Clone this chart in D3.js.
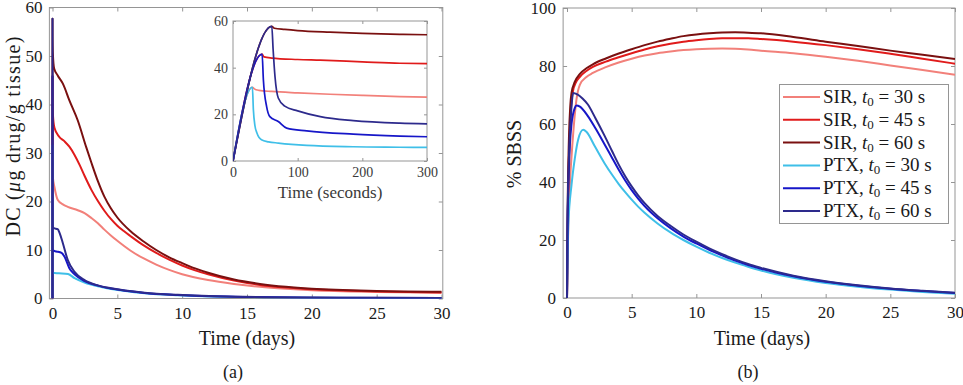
<!DOCTYPE html>
<html><head><meta charset="utf-8">
<script src="https://cdn.jsdelivr.net/npm/d3@7"></script>
<style>
body{margin:0;background:#fff}
text{font-family:"Liberation Serif","Times New Roman",serif}
</style>
</head><body>
<svg id="chart" width="963" height="385"></svg>
<script>
// ---------- data ----------
const seriesLabels = ["SIR", "SIR", "SIR", "PTX", "PTX", "PTX"];
const seriesT0 = [30, 45, 60, 30, 45, 60];
const seriesColors = ["#f2807a", "#e01b1b", "#7a1010", "#3fbfe8", "#1616c8", "#2d2a8c"];

// Panel (a): DC in days
const sir30Days = [[0,0],[0.000347,31.6],[0.00347,27.3],[0.03,25],[0.15,23],[0.41,20.3],[0.8,19.4],[1.18,18.9],[1.95,18.2],[2.47,17.6],[3.0,16.6],[3.5,15.5],[4.0,14.2],[4.5,13.0],[5,11.9],[6,9.9],[7,8.3],[8,7.0],[9,5.9],[10,5.0],[12,3.8],[14,3.0],[16,2.4],[18,2.0],[20,1.7],[25,1.35],[30,1.2]];
const sir45Days = [[0,0],[0.00052,45.8],[0.00347,41.5],[0.03,38],[0.15,35.2],[0.5,33.4],[0.93,32.4],[1.3,31.3],[1.7,29.6],[2.1,27.5],[2.47,25.3],[3.0,22.4],[3.5,20.1],[4.0,18.1],[4.5,16.4],[5,15.0],[5.5,13.9],[6,12.9],[7,11.0],[8,9.4],[9,8.0],[10,6.8],[11,5.8],[12,5.0],[14,3.7],[16,2.8],[18,2.25],[20,1.9],[25,1.45],[30,1.25]];
const sir60Days = [[0,0],[0.000694,57.7],[0.00347,54],[0.03,50.5],[0.12,47.5],[0.4,46],[0.8,44.3],[1.31,40.8],[1.95,36.7],[2.6,31.2],[3.0,28],[3.5,24.2],[4.0,21],[4.5,18.6],[5,16.7],[6,13.9],[7,11.8],[8,10.0],[9,8.5],[10,7.3],[11,6.2],[12,5.3],[14,3.9],[16,3.0],[18,2.4],[20,2.0],[25,1.55],[30,1.4]];
const ptx30Days = [[0,0],[0.000347,31.6],[0.00347,5.8],[0.02,5.3],[0.5,5.2],[1.2,5.05],[1.7,4.2],[2.47,3.3],[3.5,2.5],[4.52,1.95],[7.1,1.1],[9.66,0.68],[14.7,0.3],[20,0.17],[30,0.07]];
const ptx45Days = [[0,0],[0.00052,45.8],[0.00347,10.5],[0.02,9.9],[0.3,9.7],[0.7,9.4],[0.93,8.6],[1.31,6.2],[1.7,5.0],[2.47,3.6],[3.5,2.65],[4.52,2.05],[7.1,1.15],[9.66,0.72],[14.7,0.33],[20,0.18],[30,0.08]];
const ptx60Days = [[0,0],[0.000694,57.7],[0.00347,16],[0.02,14.8],[0.1,14.5],[0.4,14.3],[0.55,13.5],[0.8,11.4],[1.18,7.9],[1.7,5.5],[2.47,3.8],[3.5,2.7],[4.52,2.1],[7.1,1.2],[9.66,0.75],[14.7,0.35],[20,0.2],[25,0.15],[30,0.1]];

// Inset: DC in seconds
const sir30Sec = [[0,0],[30,31.6],[33,30.9],[40,30.3],[60,29.8],[100,29.2],[150,28.6],[200,28.1],[258,27.6],[300,27.4]];
const sir45Sec = [[0,0],[45,45.8],[48,44.6],[60,44.1],[100,43.5],[135,43.2],[200,42.5],[258,41.9],[300,41.7]];
const sir60Sec = [[0,0],[60,57.7],[64,56.9],[80,56.4],[100,55.9],[150,55.2],[200,54.7],[258,54.3],[300,54.1]];
const ptx30Sec = [[0,0],[30,31.6],[31.5,22],[34,15],[37,12],[44,9.1],[55,8.2],[70,7.7],[114,6.7],[186,6.1],[258,5.9],[300,5.8]];
const ptx45Sec = [[0,0],[45,45.8],[47,34.7],[52,23.3],[57,19],[70,16.9],[83,14.1],[114,12.9],[186,11.5],[258,10.7],[300,10.4]];
const ptx60Sec = [[0,0],[60,57.7],[62,48],[65,36],[70,27],[80,23.5],[100,21.5],[135,19],[186,17.3],[258,16.2],[300,15.9]];

// Panel (b): % SBSS in days
const sir30Sbss = [[0,0],[0.1,25],[0.2,37],[0.45,55],[0.73,68.4],[1.0,73.6],[1.5,76.2],[2,77.6],[3,79.6],[4,81.2],[5,82.5],[6,83.6],[7,84.4],[8,85.0],[9,85.5],[10,85.8],[11,85.95],[12,86.0],[13,85.95],[14,85.7],[15,85.3],[17.5,84.4],[20,83.2],[22.5,81.8],[25,80.2],[27.5,78.6],[30,77]];
const sir45Sbss = [[0,0],[0.07,30],[0.2,55],[0.3,65],[0.43,70.7],[0.73,74.7],[1.0,76.3],[1.5,78.3],[2,79.7],[3,81.5],[4,83.0],[5,84.4],[6,85.7],[7,86.8],[8,87.7],[9,88.4],[10,88.9],[11,89.3],[12,89.55],[13,89.6],[14,89.55],[15,89.3],[17.5,88.4],[20,87.2],[22.5,85.8],[25,84.2],[27.5,82.5],[30,80.8]];
const sir60Sbss = [[0,0],[0.05,30],[0.15,55],[0.25,66],[0.35,70.7],[0.6,74.5],[1.0,77.3],[1.5,79.2],[2,80.6],[3,82.6],[4,84.3],[5,85.8],[6,87.2],[7,88.4],[8,89.4],[9,90.3],[10,90.9],[11,91.3],[12,91.55],[13,91.6],[14,91.5],[15,91.3],[17.5,90.0],[20,88.4],[22.5,86.9],[25,85.3],[27.5,83.9],[30,82.4]];
const ptx30Sbss = [[0,0],[0.1,25],[0.35,39],[0.6,48],[0.86,54.6],[1.25,58],[1.5,57.3],[2.15,52.3],[2.9,46.5],[3.5,42.4],[4,39.3],[4.5,36.5],[5,33.9],[5.5,31.5],[6,29.4],[7,25.7],[8,22.6],[9,20.0],[10,17.7],[11,15.6],[12,13.8],[13,12.2],[14,10.8],[15,9.5],[17.5,7.0],[20,5.2],[22.5,3.9],[25,2.9],[27.5,2.1],[30,1.5]];
const ptx45Sbss = [[0,0],[0.05,25],[0.15,45],[0.35,60],[0.6,65.5],[0.73,66.4],[1.0,66],[1.6,62.8],[2.2,58.5],[2.9,53],[3.5,48.2],[4,44.2],[4.5,40.5],[5,37.2],[5.5,34.3],[6,31.7],[7,27.5],[8,24.1],[9,21.2],[10,18.8],[11,16.6],[12,14.7],[13,12.9],[14,11.4],[15,10.1],[17.5,7.5],[20,5.6],[22.5,4.25],[25,3.2],[27.5,2.4],[30,1.7]];
const ptx60Sbss = [[0,0],[0.02,20],[0.08,37],[0.2,55],[0.35,66],[0.47,70.7],[0.8,70.2],[1.2,68.8],[1.6,66.8],[2.2,62],[2.9,56],[3.5,50.5],[4,46],[4.5,42],[5,38.5],[5.5,35.4],[6,32.7],[7,28.3],[8,24.9],[9,21.9],[10,19.4],[11,17.1],[12,15.1],[13,13.3],[14,11.7],[15,10.4],[17.5,7.7],[20,5.8],[22.5,4.4],[25,3.3],[27.5,2.5],[30,1.8]];

const dayTicks = [0, 5, 10, 15, 20, 25, 30];
const dcTicks = [0, 10, 20, 30, 40, 50, 60];
const sbssTicks = [0, 20, 40, 60, 80, 100];
const secTicks = [0, 100, 200, 300];
const insetTicks = [0, 20, 40, 60];

const dcSeries = [sir30Days, sir45Days, sir60Days, ptx30Days, ptx45Days, ptx60Days];
const secSeries = [sir30Sec, sir45Sec, sir60Sec, ptx30Sec, ptx45Sec, ptx60Sec];
const sbssSeries = [sir30Sbss, sir45Sbss, sir60Sbss, ptx30Sbss, ptx45Sbss, ptx60Sbss];

// ---------- drawing ----------
const svg = d3.select("#chart");
const boxColor = "#959595";
const txtColor = "#1a1a1a";

function panel(opts) {
  const g = svg.append("g");
  const {x, y, xTicks, yTicks, box, tickFont, tickLen, labelColor} = opts;
  g.append("rect").attr("x", box[0]).attr("y", box[1]).attr("width", box[2]-box[0]).attr("height", box[3]-box[1])
    .attr("fill", "#fff");
  const clipId = "clip" + Math.random().toString(36).slice(2);
  g.append("clipPath").attr("id", clipId).append("rect")
    .attr("x", box[0]).attr("y", box[1]-2).attr("width", box[2]-box[0]).attr("height", box[3]-box[1]+2);
  const ax = [
    d3.axisBottom(x).tickValues(xTicks).tickSizeInner(-tickLen).tickSizeOuter(0).tickPadding(opts.xPad),
    d3.axisTop(x).tickValues(xTicks).tickSizeInner(-tickLen).tickSizeOuter(0).tickFormat(""),
    d3.axisLeft(y).tickValues(yTicks).tickSizeInner(-tickLen).tickSizeOuter(0).tickPadding(opts.yPad),
    d3.axisRight(y).tickValues(yTicks).tickSizeInner(-tickLen).tickSizeOuter(0).tickFormat("")
  ];
  const pos = [`translate(0,${box[3]})`, `translate(0,${box[1]})`, `translate(${box[0]},0)`, `translate(${box[2]},0)`];
  ax.forEach((a, i) => {
    const ag = g.append("g").attr("transform", pos[i]).call(a);
    ag.select(".domain").remove();
    ag.selectAll(".tick line").attr("stroke", boxColor).attr("stroke-width", 1);
    ag.selectAll(".tick text").attr("fill", labelColor).style("font-size", tickFont + "px")
      .style("font-family", '"Liberation Serif",serif');
  });
  g.append("rect").attr("x", box[0]).attr("y", box[1]).attr("width", box[2]-box[0]).attr("height", box[3]-box[1])
    .attr("fill", "none").attr("stroke", boxColor).attr("stroke-width", 1);
  const lines = g.append("g").attr("clip-path", `url(#${clipId})`);
  const line = d3.line().x(d => x(d[0])).y(d => y(d[1])).curve(d3.curveMonotoneX);
  opts.series.forEach((s, i) => {
    lines.append("path").attr("d", line(s)).attr("fill", "none")
      .attr("stroke", seriesColors[i]).attr("stroke-width", opts.lw).attr("stroke-linejoin", "round");
  });
  return g;
}

// Panel (a)
const xA = d3.scaleLinear().domain([0, 30]).range([52.5, 441.5]);
const yA = d3.scaleLinear().domain([0, 60]).range([298.5, 7.5]);
panel({x: xA, y: yA, xTicks: dayTicks, yTicks: dcTicks, box: [xA(-0.24), 7.5, xA(30.1), 298.5],
  tickFont: 17, tickLen: 4, xPad: 8, yPad: 7, labelColor: txtColor, series: dcSeries, lw: 2});

// Inset
const xI = d3.scaleLinear().domain([0, 300]).range([233, 427]);
const yI = d3.scaleLinear().domain([0, 60]).range([161, 21]);
panel({x: xI, y: yI, xTicks: secTicks, yTicks: insetTicks, box: [233, 21, 427, 161],
  tickFont: 14, tickLen: 3, xPad: 6, yPad: 5, labelColor: "#3a3a3a", series: secSeries, lw: 1.7});

// Panel (b)
const xB = d3.scaleLinear().domain([0, 30]).range([567, 955]);
const yB = d3.scaleLinear().domain([0, 100]).range([298, 8]);
panel({x: xB, y: yB, xTicks: dayTicks, yTicks: sbssTicks, box: [xB(-0.3), 8, 955, 298],
  tickFont: 17, tickLen: 4, xPad: 8, yPad: 7, labelColor: txtColor, series: sbssSeries, lw: 2});

// Axis labels
svg.append("text").attr("x", 247).attr("y", 345).attr("text-anchor", "middle")
  .attr("fill", txtColor).style("font-size", "20px").text("Time (days)");
svg.append("text").attr("x", 762).attr("y", 345).attr("text-anchor", "middle")
  .attr("fill", txtColor).style("font-size", "20px").text("Time (days)");
svg.append("text").attr("x", 330).attr("y", 198).attr("text-anchor", "middle")
  .attr("fill", "#3a3a3a").style("font-size", "17px").text("Time (seconds)");
const yl = svg.append("text").attr("transform", "translate(20,136) rotate(-90)").attr("text-anchor", "middle")
  .attr("fill", txtColor).style("font-size", "20px").style("letter-spacing", "1.3px");
yl.append("tspan").text("DC (");
yl.append("tspan").style("font-style", "italic").text("μ");
yl.append("tspan").text("g drug/g tissue)");
svg.append("text").attr("transform", "translate(521,154) rotate(-90)").attr("text-anchor", "middle")
  .attr("fill", txtColor).style("font-size", "20px").text("% SBSS");

svg.append("text").attr("x", 233).attr("y", 378).attr("text-anchor", "middle")
  .attr("fill", txtColor).style("font-size", "18px").text("(a)");
svg.append("text").attr("x", 748).attr("y", 378).attr("text-anchor", "middle")
  .attr("fill", txtColor).style("font-size", "18px").text("(b)");

// Legend
const lg = svg.append("g");
lg.append("rect").attr("x", 779.5).attr("y", 84.5).attr("width", 169).attr("height", 139)
  .attr("fill", "#fff").attr("stroke", boxColor).attr("stroke-width", 1);
seriesLabels.forEach((lab, i) => {
  const yy = 97 + i * 22.8;
  lg.append("line").attr("x1", 783).attr("x2", 820).attr("y1", yy).attr("y2", yy)
    .attr("stroke", seriesColors[i]).attr("stroke-width", 2);
  const t = lg.append("text").attr("x", 823).attr("y", yy + 6).attr("fill", txtColor).style("font-size", "19px");
  t.append("tspan").text(lab + ", ");
  t.append("tspan").style("font-style", "italic").text("t");
  t.append("tspan").attr("dy", 3).style("font-size", "13px").text("0");
  t.append("tspan").attr("dy", -3).text(" = " + seriesT0[i] + " s");
});
</script>
</body></html>
